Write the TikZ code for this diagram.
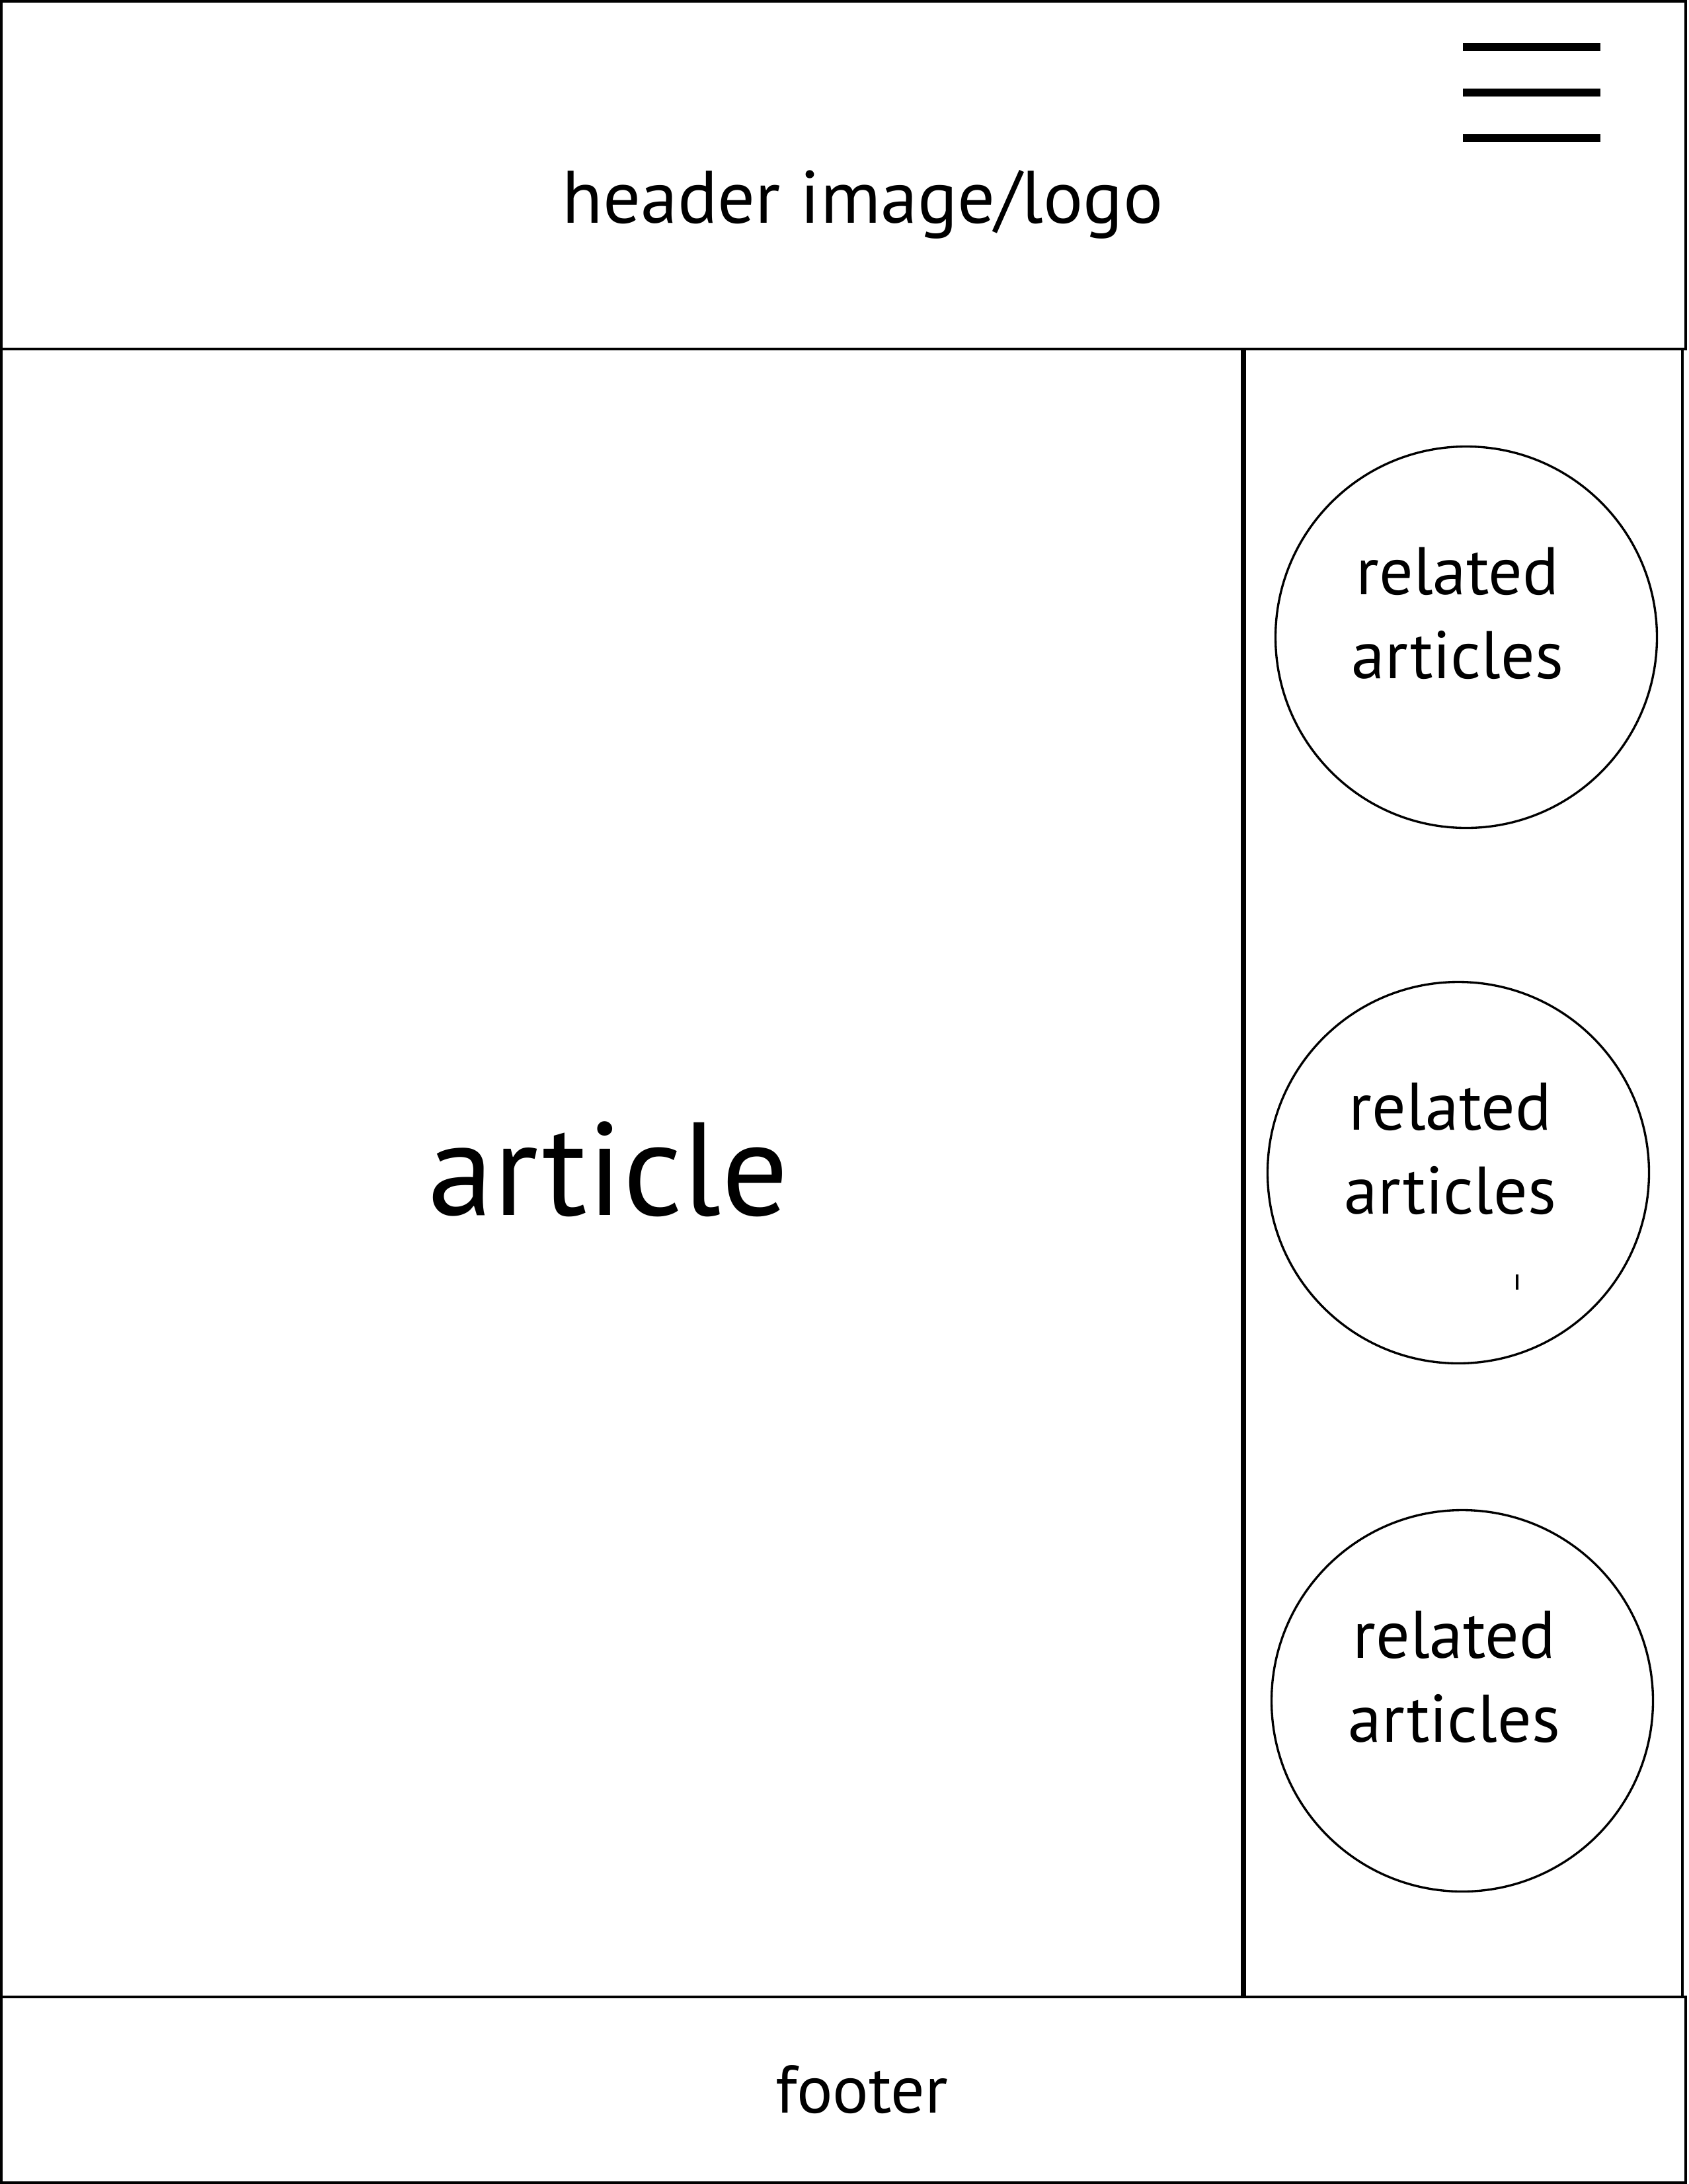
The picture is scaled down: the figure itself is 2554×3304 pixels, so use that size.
\documentclass[tikz,border=0pt]{standalone}
\usepackage{fontspec}
\setmainfont{PT Sans}
\begin{document}
\begin{tikzpicture}[x=0.1mm, y=-0.1mm,
    frame/.style={draw=black, line width=1.3pt},
    divider/.style={draw=black, line width=2.3pt},
    burger/.style={draw=black, line width=3.4pt},
    roundnode/.style={circle, draw=black, line width=0.95pt, minimum size=577*0.1mm, inner sep=0pt},
    smalltext/.style={font=\fontsize{29}{36}\selectfont, align=center, inner sep=0pt},
    bigtext/.style={font=\fontsize{57}{68}\selectfont, inner sep=0pt}]
    \useasboundingbox (0,0) rectangle (2554,3304);
    % Frame
      \draw[frame] (2,2) rectangle (2550,528);
      \draw[frame] (2,528) rectangle (2545,3021);
      \draw[divider] (1881,528) -- (1881,3021);
      \draw[frame] (2,3021) rectangle (2550,3302);
    % Menu icon
      \draw[burger] (2213,71)  -- (2421,71);
      \draw[burger] (2213,140) -- (2421,140);
      \draw[burger] (2213,209) -- (2421,209);
    % Place nodes
    \node[smalltext, font=\fontsize{32}{38}\selectfont, anchor=base] (header) at (1305,337) {header image/logo};
    \node[bigtext, anchor=base]   (article) at (920,1838)  {article};
    \node[smalltext, anchor=base] (footer)  at (1304,3196) {footer};
    \node[roundnode] (relone)   at (2218,964)  {};
    \node[roundnode] (reltwo)   at (2206,1774) {};
    \node[roundnode] (relthree) at (2212,2573) {};
    \node[smalltext] (relonetext)   at (2205,928)  {related\\articles};
    \node[smalltext] (reltwotext)   at (2194,1738) {related\\articles};
    \node[smalltext] (relthreetext) at (2200,2537) {related\\articles};
    % Stray mark
      \draw[line width=1.1pt] (2295,1928) -- (2295,1951);
  \end{tikzpicture}
\end{document}
